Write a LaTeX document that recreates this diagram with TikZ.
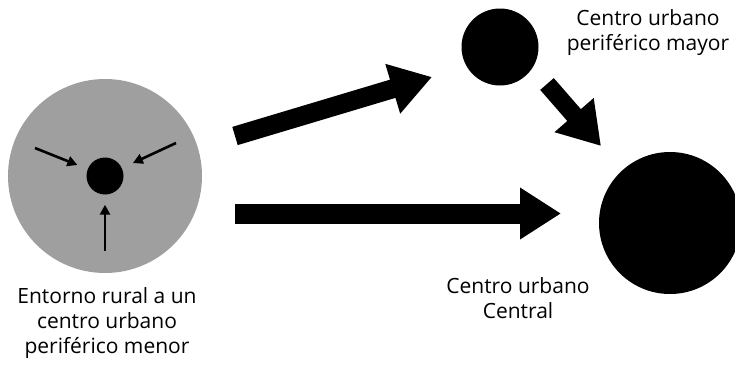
\documentclass[tikz,border=0pt]{standalone}
\usepackage{fontspec}
\setmainfont{Open Sans}
\usetikzlibrary{arrows.meta}
\definecolor{ruralgrey}{HTML}{9F9F9F}
\tikzset{
  disc/.style={circle, fill=black, inner sep=0pt, minimum size=#1},
  bigarrow/.style={line width=#1, -{Triangle[length=41pt,width=49pt]}},
  smallarrow/.style={line width=2.6pt, -{Triangle[length=10pt,width=10pt]}},
  label/.style={align=center, font=\fontsize{21}{25}\selectfont, inner sep=0pt},
}
\begin{document}
\begin{tikzpicture}[x=1pt,y=-1pt]
\useasboundingbox (0,0) rectangle (735,364);
\clip (0,0) rectangle (735,364);
% rural surroundings
\node[circle, fill=ruralgrey, inner sep=0pt, minimum size=194pt] (rural) at (105,176) {};
\node[disc=37pt] (small) at (105,176) {};
\node[disc=77pt] (mayor) at (500,47) {};
\node[disc=142pt] (central) at (670,223) {};
% small inward arrows
\coordinate (inL) at (35,148);
\coordinate (inR) at (176,143);
\coordinate (inB) at (105,251);
\draw[smallarrow, shorten >=11pt] (inL) -- (small);
\draw[smallarrow, shorten >=12pt] (inR) -- (small);
\draw[smallarrow, shorten >=10pt] (inB) -- (small);
% big arrows
\coordinate (aUs) at (235,136);
\coordinate (aUe) at (432,77);
\draw[bigarrow=19pt] (aUs) -- (aUe);
\coordinate (aHs) at (235,213.5);
\coordinate (aHe) at (561,213.5);
\draw[bigarrow=20pt] (aHs) -- (aHe);
\coordinate (aDs) at (547,84);
\coordinate (aDe) at (601,146);
\draw[bigarrow=18pt] (aDs) -- (aDe);
% labels
\node[label] (tMayor) at (648,33) {Centro urbano\\periférico mayor};
\node[label] (tCentral) at (518,298) {Centro urbano\\Central};
\node[label] (tRural) at (107,323) {Entorno rural a un\\centro urbano\\periférico menor};
\end{tikzpicture}
\end{document}
